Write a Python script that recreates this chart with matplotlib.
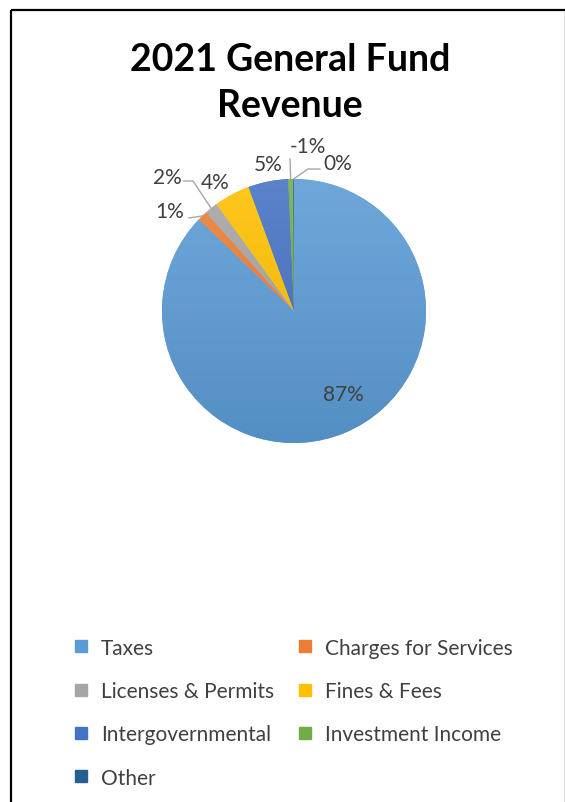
import numpy as np
import matplotlib.pyplot as plt
from matplotlib.lines import Line2D
from matplotlib.colors import to_rgb

plt.rcParams['font.family'] = ['Lato', 'DejaVu Sans']

categories = ["Taxes", "Charges for Services", "Licenses & Permits", "Fines & Fees",
              "Intergovernmental", "Investment Income", "Other"]
shares = [87.2, 1.2, 1.6, 4.4, 4.9, -0.6, 0.1]
colors = ["#5B9BD5", "#ED7D31", "#A5A5A5", "#FFC000", "#4472C4", "#70AD47", "#255E91"]
title = "2021 General Fund\nRevenue"

W, H = 565, 803
total = np.sum(np.abs(shares))
pct_labels = ["%d%%" % round(v / total * 100) for v in shares]

# label positions (pixels, from top-left) and leader lines
label_xy = [(343, 395), (170, 212), (167, 178), (215, 183), (268, 165), (308, 147), (338, 164)]
leaders = {1: [(189, 219)], 2: [(184, 182), (193, 182)], 5: [(290, 160)], 6: [(320, 170), (308, 170)]}

fig = plt.figure(figsize=(W / 100, H / 100), dpi=100)
ax = fig.add_axes([0, 0, 1, 1])

cx, cy, R = 294, H - 312, 132
wedges, _ = ax.pie(np.abs(shares), colors=colors, startangle=90, counterclock=False,
                   center=(cx, cy), radius=R, frame=True, wedgeprops=dict(linewidth=0))

# soft gradient like the office style
for w, c in zip(wedges, colors):
    base = np.array(to_rgb(c))
    t = np.linspace(0, 1, 256)[:, None]
    top = base + (1 - base) * 0.12
    bot = base * 0.92
    grad = bot[None, :] * (1 - t) + top[None, :] * t
    img = np.repeat(grad[:, None, :], 2, axis=1)
    im = ax.imshow(img, extent=[cx - R, cx + R, cy - R, cy + R], origin='lower',
                   aspect='auto', zorder=w.get_zorder(), interpolation='bilinear')
    im.set_clip_path(w)

for i, (w, lab) in enumerate(zip(wedges, pct_labels)):
    lx, ly = label_xy[i]
    ax.text(lx, H - ly, lab, ha='center', va='center', fontsize=15, color='#404040')
    if i in leaders:
        mid = np.deg2rad((w.theta1 + w.theta2) / 2)
        ex, ey = cx + R * np.cos(mid), cy + R * np.sin(mid)
        pts = [(x, H - y) for x, y in leaders[i]] + [(ex, ey)]
        xs, ys = zip(*pts)
        ax.plot(xs, ys, color='#A6A6A6', lw=1, zorder=1)

ax.set_xlim(0, W)
ax.set_ylim(0, H)
ax.set_aspect('equal')
ax.axis('off')

# frame
ax.plot([11, W], [H - 11, H - 11], color='black', lw=1.6, solid_capstyle='butt')
ax.plot([11, 11], [0, H - 11], color='black', lw=1.6, solid_capstyle='butt')
ax.plot([564, 564], [0, H - 12], color='#E0E0E0', lw=0.8)

ax.text(290, H - 83, title, ha='center', va='center', fontsize=27, fontweight='bold',
        color='black', linespacing=1.45)

order = [0, 2, 4, 6, 1, 3, 5]
handles = [Line2D([], [], marker='s', linestyle='', markersize=9, color=colors[k]) for k in order]
fig.legend(handles, [categories[k] for k in order], ncol=2, loc='upper left',
           bbox_to_anchor=(56 / W, 1 - 620 / H), frameon=False, fontsize=15,
           handlelength=0.6, handletextpad=0.65, columnspacing=1.2, labelspacing=1.12,
           labelcolor='#404040')

fig.savefig("out.png", dpi=100)
